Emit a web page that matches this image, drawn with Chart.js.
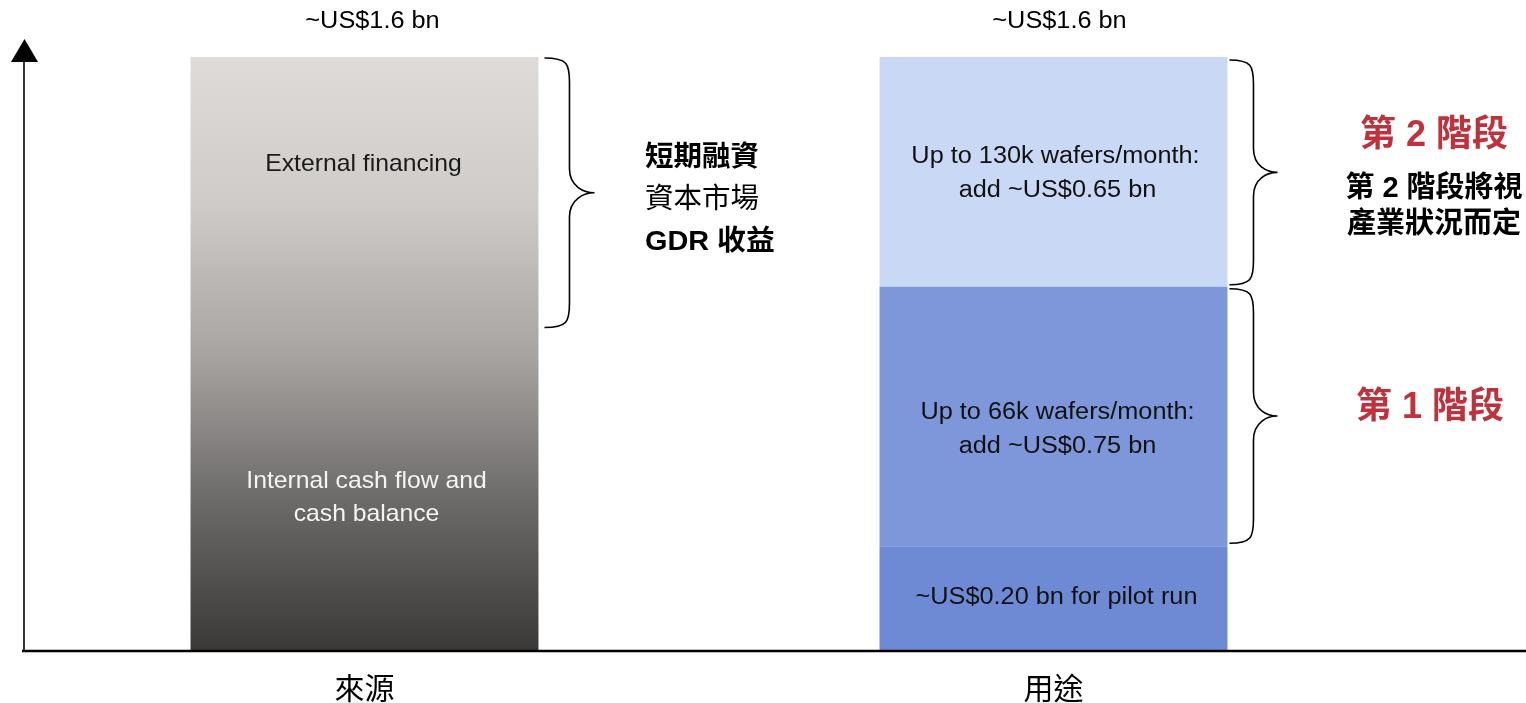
<!DOCTYPE html>
<html>
<head>
<meta charset="utf-8">
<script src="https://cdn.jsdelivr.net/npm/chart.js@4"></script>
<style>
  html, body { margin: 0; padding: 0; background: #fff; }
  #wrap { width: 1526px; height: 703px; position: relative; }
</style>
</head>
<body>
<div id="wrap"><canvas id="chart"></canvas></div>
<script>
const categories = ['來源', '用途'];
const sourceValues = [1.6, null];
const pilotValues = [null, 0.28];
const phase1Values = [null, 0.70];
const phase2Values = [null, 0.62];
const totalLabels = ['~US$1.6 bn', '~US$1.6 bn'];

const FONT_EN = '"Liberation Sans", Arial, "Noto Sans CJK TC", sans-serif';
const RED = '#c0323b';

function drawText(ctx, text, x, y, opts = {}) {
  const size = opts.size || 24;
  const weight = opts.bold ? 'bold ' : '';
  ctx.save();
  ctx.translate(x, y);
  ctx.scale(opts.sx || 1, 1);
  ctx.font = `${weight}${size}px ${FONT_EN}`;
  ctx.fillStyle = opts.color || '#111';
  ctx.textAlign = opts.align || 'center';
  ctx.textBaseline = 'middle';
  ctx.fillText(text, 0, 0);
  ctx.restore();
}

// curly brace opening to the left, tip pointing right
function drawBrace(ctx, x0, yTop, yBot, w) {
  const xm = x0 + w * 0.5;
  const xt = x0 + w;
  const ymid = (yTop + yBot) / 2;
  const r = 24;
  ctx.beginPath();
  ctx.moveTo(x0, yTop);
  ctx.bezierCurveTo(xm - 2, yTop, xm, yTop + 6, xm, yTop + r);
  ctx.lineTo(xm, ymid - r);
  ctx.bezierCurveTo(xm, ymid - 6, xt - 10, ymid, xt, ymid);
  ctx.bezierCurveTo(xt - 10, ymid, xm, ymid + 6, xm, ymid + r);
  ctx.lineTo(xm, yBot - r);
  ctx.bezierCurveTo(xm, yBot - 6, xm - 2, yBot, x0, yBot);
  ctx.stroke();
}

const overlay = {
  id: 'overlay',
  afterDatasetsDraw(chart) {
    const { ctx, chartArea: a, scales: { y } } = chart;
    const src = chart.getDatasetMeta(0).data[0];
    const pilot = chart.getDatasetMeta(1).data[1];
    const p1 = chart.getDatasetMeta(2).data[1];
    const p2 = chart.getDatasetMeta(3).data[1];

    ctx.save();
    // axes
    ctx.strokeStyle = '#000';
    ctx.lineWidth = 2.5;
    ctx.beginPath();
    ctx.moveTo(22, a.bottom + 1);
    ctx.lineTo(chart.width, a.bottom + 1);
    ctx.stroke();
    ctx.lineWidth = 1.6;
    ctx.beginPath();
    ctx.moveTo(24, a.bottom + 1);
    ctx.lineTo(24, 60);
    ctx.stroke();
    ctx.fillStyle = '#000';
    ctx.beginPath();
    ctx.moveTo(24.5, 39);
    ctx.lineTo(38, 62);
    ctx.lineTo(11, 62);
    ctx.closePath();
    ctx.fill();

    // totals above bars
    drawText(ctx, totalLabels[0], src.x + 8, 22, { size: 23, sx: 1.1, color: '#000' });
    drawText(ctx, totalLabels[1], p2.x + 6, 22, { size: 23, sx: 1.1, color: '#000' });

    // left bar labels
    drawText(ctx, 'External financing', src.x - 1, y.getPixelForValue(1.31), { size: 24, sx: 1.03, color: '#1a1a1a' });
    drawText(ctx, 'Internal cash flow and', src.x + 2, y.getPixelForValue(0.455), { size: 24, sx: 1.03, color: '#f4f4f4' });
    drawText(ctx, 'cash balance', src.x + 2, y.getPixelForValue(0.365), { size: 24, sx: 1.03, color: '#f4f4f4' });

    // right bar labels
    drawText(ctx, 'Up to 130k wafers/month:', p2.x + 2, p2.y + (p2.base - p2.y) / 2 - 15, { size: 23, sx: 1.1 });
    drawText(ctx, 'add ~US$0.65 bn', p2.x + 4, p2.y + (p2.base - p2.y) / 2 + 19, { size: 23, sx: 1.1 });
    drawText(ctx, 'Up to 66k wafers/month:', p1.x + 4, p1.y + (p1.base - p1.y) / 2 - 4, { size: 23, sx: 1.1 });
    drawText(ctx, 'add ~US$0.75 bn', p1.x + 4, p1.y + (p1.base - p1.y) / 2 + 30, { size: 23, sx: 1.1 });
    drawText(ctx, '~US$0.20 bn for pilot run', pilot.x + 3, pilot.y + (pilot.base - pilot.y) / 2, { size: 23, sx: 1.1 });

    // braces
    ctx.strokeStyle = '#000';
    ctx.lineWidth = 1.6;
    drawBrace(ctx, src.x + src.width / 2 + 6, y.getPixelForValue(1.6) + 1, y.getPixelForValue(0.87), 50);
    drawBrace(ctx, p2.x + p2.width / 2 + 2, p2.y + 3, p2.base - 2, 48);
    drawBrace(ctx, p1.x + p1.width / 2 + 2, p1.y + 2, p1.base - 3, 48);

    // annotation texts
    drawText(ctx, '短期融資', 645, 158, { size: 28.5, bold: true, align: 'left', color: '#000' });
    drawText(ctx, '資本市場', 645, 200, { size: 28.5, align: 'left', color: '#000' });
    drawText(ctx, 'GDR 收益', 645, 242, { size: 28, bold: true, align: 'left', color: '#000', sx: 1.03 });

    drawText(ctx, '第 2 階段', 1434, 136, { size: 36, bold: true, color: RED });
    drawText(ctx, '第 2 階段將視', 1434, 189, { size: 29, bold: true, color: '#000' });
    drawText(ctx, '產業狀況而定', 1434, 225, { size: 29, bold: true, color: '#000' });
    drawText(ctx, '第 1 階段', 1430, 408, { size: 36, bold: true, color: RED });
    ctx.restore();
  }
};

function sourceGradient(context) {
  const area = context.chart.chartArea;
  if (!area) return '#a8a4a2';
  const g = context.chart.ctx.createLinearGradient(0, area.top, 0, area.bottom);
  g.addColorStop(0, '#dfdbd8');
  g.addColorStop(0.25, '#cfcbc8');
  g.addColorStop(0.5, '#a8a4a2');
  g.addColorStop(0.75, '#6c6a69');
  g.addColorStop(1, '#3a3938');
  return g;
}

new Chart(document.getElementById('chart'), {
  type: 'bar',
  data: {
    labels: categories,
    datasets: [
      { label: 'Source', data: sourceValues, backgroundColor: sourceGradient },
      { label: 'Pilot run', data: pilotValues, backgroundColor: '#6e8ad5' },
      { label: 'Phase 1', data: phase1Values, backgroundColor: '#7d97da' },
      { label: 'Phase 2', data: phase2Values, backgroundColor: '#c9d8f4' }
    ]
  },
  options: {
    responsive: true,
    maintainAspectRatio: false,
    animation: false,
    layout: { padding: { left: 20, right: 128, top: 57, bottom: 0 } },
    datasets: { bar: { categoryPercentage: 1, barPercentage: 0.505, borderWidth: 0 } },
    plugins: { legend: { display: false }, tooltip: { enabled: false } },
    scales: {
      x: {
        stacked: true,
        grid: { display: false, drawTicks: false },
        border: { display: false },
        afterFit(scale) { scale.height = 53; },
        ticks: {
          color: '#000',
          padding: 20,
          font: { size: 30, family: '"Noto Sans CJK TC", sans-serif' }
        }
      },
      y: { stacked: true, display: false, min: 0, max: 1.6 }
    }
  },
  plugins: [overlay]
});
</script>
</body>
</html>
